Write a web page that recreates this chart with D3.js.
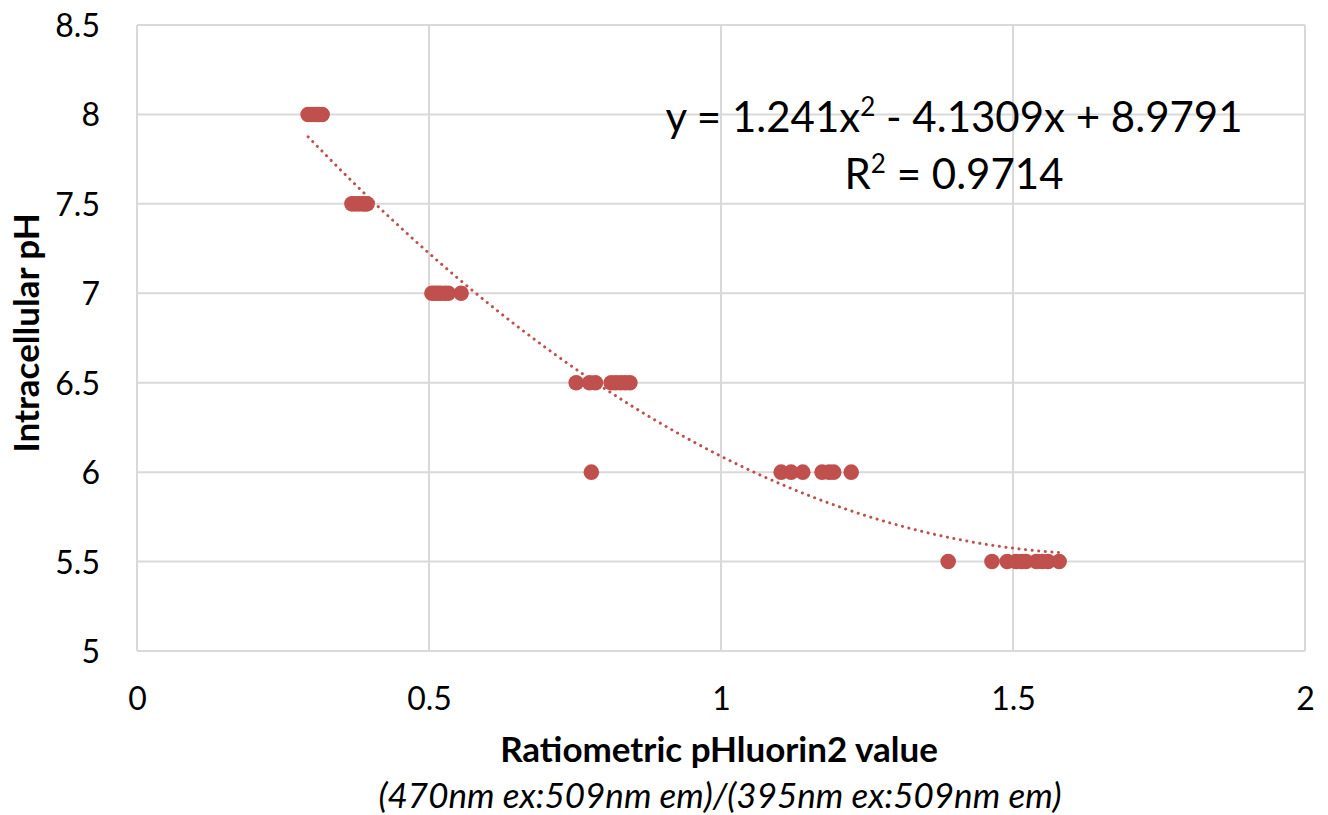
<!DOCTYPE html>
<html>
<head>
<meta charset="utf-8">
<script src="https://cdn.jsdelivr.net/npm/d3@7"></script>
<style>
  html, body { margin: 0; padding: 0; background: #fff; }
  svg { display: block; font-family: Lato, "Open Sans", sans-serif; }
</style>
</head>
<body>
<svg id="chart" width="1328" height="815"></svg>
<script>
// Calibration measurements: ratiometric value (x) against clamped pH (y)
const ph8  = [0.293, 0.298, 0.303, 0.308, 0.312, 0.317];
const ph75 = [0.368, 0.374, 0.380, 0.386, 0.390, 0.394];
const ph7  = [0.505, 0.510, 0.515, 0.520, 0.527, 0.533, 0.555];
const ph65 = [0.752, 0.775, 0.785, 0.812, 0.820, 0.828, 0.836, 0.844];
const ph6  = [0.778, 1.103, 1.120, 1.140, 1.173, 1.185, 1.193, 1.223];
const ph55 = [1.389, 1.464, 1.490, 1.505, 1.515, 1.522, 1.540, 1.550, 1.560, 1.579];
const phLevels = [8, 7.5, 7, 6.5, 6, 5.5];
const xTicks = [0, 0.5, 1, 1.5, 2];
const yTicks = [5, 5.5, 6, 6.5, 7, 7.5, 8, 8.5];
// Second-order polynomial fit
const fitCoef = [1.241, -4.1309, 8.9791];
const fitR2 = 0.9714;

const points = [ph8, ph75, ph7, ph65, ph6, ph55].flatMap((xs, i) =>
  xs.map(x => ({ x, y: phLevels[i] })));

const svg = d3.select("#chart");
const x = d3.scaleLinear().domain([0, 2]).range([137, 1305]);
const y = d3.scaleLinear().domain([5, 8.5]).range([651, 25]);
const red = "#c0504d";
const grid = "#d9d9d9";

// gridlines
svg.append("g").selectAll("line").data(yTicks).join("line")
  .attr("x1", x(0)).attr("x2", x(2))
  .attr("y1", d => y(d)).attr("y2", d => y(d))
  .attr("stroke", grid).attr("stroke-width", 2);
svg.append("g").selectAll("line").data(xTicks).join("line")
  .attr("y1", y(5)).attr("y2", y(8.5))
  .attr("x1", d => x(d)).attr("x2", d => x(d))
  .attr("stroke", grid).attr("stroke-width", 2);

// axes (labels only, lines come from the grid)
const xAxis = svg.append("g").attr("transform", `translate(0,${y(5)})`)
  .call(d3.axisBottom(x).tickValues(xTicks).tickSize(0).tickPadding(47).tickFormat(d3.format("")));
const yAxis = svg.append("g").attr("transform", `translate(${x(0)},0)`)
  .call(d3.axisLeft(y).tickValues(yTicks).tickSize(0).tickPadding(37).tickFormat(d3.format("")));
[xAxis, yAxis].forEach(g => {
  g.select(".domain").remove();
  g.selectAll("text").attr("font-family", "Lato, sans-serif")
    .attr("font-size", 32).attr("fill", "#000");
});
yAxis.selectAll("text").attr("dy", "0.36em");
xAxis.selectAll("text").attr("dy", "0.36em");

// data points
svg.append("g").selectAll("circle").data(points).join("circle")
  .attr("cx", d => x(d.x)).attr("cy", d => y(d.y)).attr("r", 7.8)
  .attr("fill", red);

// polynomial trendline across the data range
const [a, b, c] = fitCoef;
const xMin = d3.min(points, d => d.x), xMax = d3.max(points, d => d.x);
const curve = d3.range(0, 201).map(i => {
  const xv = xMin + (xMax - xMin) * i / 200;
  return [xv, a * xv * xv + b * xv + c];
});
svg.append("path")
  .attr("d", d3.line().x(d => x(d[0])).y(d => y(d[1]))(curve))
  .attr("fill", "none").attr("stroke", red).attr("stroke-width", 3)
  .attr("stroke-linecap", "round").attr("stroke-dasharray", "0.1 6.5");

// equation label
const eq = svg.append("text").attr("x", 954).attr("y", 132)
  .attr("text-anchor", "middle").attr("font-size", 42).attr("fill", "#000");
eq.append("tspan").text(`y = ${a}x`);
eq.append("tspan").attr("dy", -16).attr("font-size", 26).text("2");
eq.append("tspan").attr("dy", 16).text(` - ${-b}x + ${c}`);
const r2 = svg.append("text").attr("x", 954).attr("y", 189)
  .attr("text-anchor", "middle").attr("font-size", 42).attr("fill", "#000");
r2.append("tspan").text("R");
r2.append("tspan").attr("dy", -16).attr("font-size", 26).text("2");
r2.append("tspan").attr("dy", 16).text(` = ${fitR2}`);

// axis titles
svg.append("text").attr("x", 719).attr("y", 762).attr("text-anchor", "middle")
  .attr("font-size", 35).attr("font-weight", "bold").text("Ratiometric pHluorin2 value");
svg.append("text").attr("x", 720).attr("y", 808).attr("text-anchor", "middle")
  .attr("font-size", 35).attr("font-style", "italic")
  .text("(470nm ex:509nm em)/(395nm ex:509nm em)");
svg.append("text").attr("transform", "translate(39,333) rotate(-90)")
  .attr("text-anchor", "middle").attr("font-size", 35).attr("font-weight", "bold")
  .text("Intracellular pH");
</script>
</body>
</html>
